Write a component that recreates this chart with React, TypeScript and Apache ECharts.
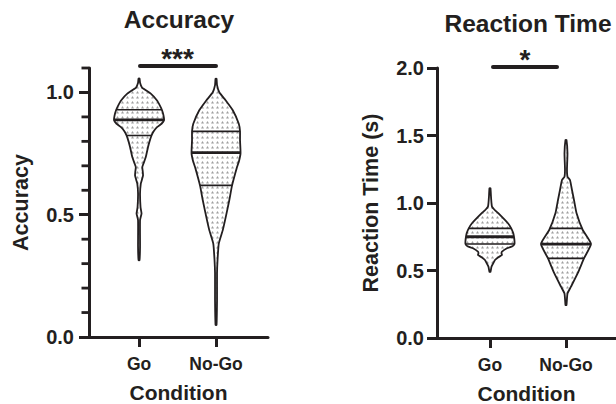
import React, { useEffect, useRef } from 'react';
import * as echarts from 'echarts';

const categories = ['Go', 'No-Go'];
const categoryPositions = [1, 2];

// Violin outlines: [value, relative half-width (1 = widest)]
const accGoProfile = [
  [1.057, 0], [1.04, 0.04], [1.02, 0.12], [0.995, 0.47], [0.967, 0.72], [0.945, 0.84],
  [0.927, 0.92], [0.905, 0.98], [0.886, 1.0], [0.872, 0.9], [0.858, 0.72], [0.84, 0.58],
  [0.824, 0.5], [0.8, 0.42], [0.777, 0.36], [0.736, 0.27], [0.71, 0.18], [0.695, 0.13],
  [0.675, 0.15], [0.661, 0.16], [0.645, 0.12], [0.627, 0.07], [0.587, 0.04], [0.53, 0.06],
  [0.505, 0.1], [0.478, 0.04], [0.369, 0.04], [0.314, 0],
];
const accNoGoProfile = [
  [1.056, 0], [1.03, 0.04], [1.001, 0.13], [0.967, 0.39], [0.927, 0.67], [0.872, 0.91],
  [0.841, 0.96], [0.804, 0.96], [0.752, 0.98], [0.72, 0.92], [0.695, 0.84], [0.619, 0.64],
  [0.559, 0.53], [0.491, 0.39], [0.437, 0.27], [0.382, 0.11], [0.314, 0.06], [0.261, 0.04],
  [0.15, 0.04], [0.049, 0],
];
const rtGoProfile = [
  [1.109, 0], [1.05, 0.04], [1.0, 0.06], [0.973, 0.08], [0.95, 0.18], [0.925, 0.33],
  [0.85, 0.72], [0.812, 0.85], [0.777, 0.93], [0.75, 0.96], [0.72, 0.98], [0.696, 0.98],
  [0.68, 0.9], [0.665, 0.68], [0.64, 0.48], [0.628, 0.46], [0.615, 0.48], [0.6, 0.35],
  [0.578, 0.2], [0.55, 0.12], [0.528, 0.06], [0.49, 0],
];
const rtNoGoProfile = [
  [1.467, 0], [1.368, 0.06], [1.25, 0.04], [1.195, 0.06], [1.17, 0.16], [1.096, 0.24],
  [1.022, 0.32], [0.926, 0.42], [0.8, 0.67], [0.696, 1.0], [0.59, 0.72], [0.48, 0.47],
  [0.38, 0.2], [0.33, 0.06], [0.244, 0],
];

// Quartiles [Q1, median, Q3]
const accGoQuartiles = [0.824, 0.888, 0.929];
const accNoGoQuartiles = [0.62, 0.754, 0.841];
const rtGoQuartiles = [0.696, 0.75, 0.812];
const rtNoGoQuartiles = [0.59, 0.696, 0.812];

const accMajorTicks = [0, 0.5, 1.0];
const accMinorTicks = [0.1, 0.2, 0.3, 0.4, 0.6, 0.7, 0.8, 0.9, 1.1];
const rtTicks = [0, 0.5, 1.0, 1.5, 2.0];

const INK = '#231f20';
const FONT = 'Liberation Sans';
const ACC_X_MIN = 0.35;

function interpWidth(profile: number[][], v: number) {
  for (let i = 0; i < profile.length - 1; i++) {
    const [v0, w0] = profile[i];
    const [v1, w1] = profile[i + 1];
    if (v <= v0 && v >= v1) {
      const t = (v0 - v) / (v0 - v1 || 1);
      return w0 + (w1 - w0) * t;
    }
  }
  return 0;
}

function makePattern() {
  const c = document.createElement('canvas');
  c.width = 5;
  c.height = 5;
  const ctx = c.getContext('2d')!;
  ctx.fillStyle = '#ffffff';
  ctx.fillRect(0, 0, 5, 5);
  ctx.fillStyle = '#a0a0a0';
  ctx.beginPath();
  ctx.moveTo(2.5, 1);
  ctx.lineTo(4, 3.6);
  ctx.lineTo(1, 3.6);
  ctx.closePath();
  ctx.fill();
  return { image: c, repeat: 'repeat', imageWidth: 5, imageHeight: 5 };
}

function makeRenderItem(
  profiles: number[][][],
  quartiles: number[][],
  pattern: any,
  minorTicks: number[] = [],
  axisXMin = 0,
) {
  const maxHalf = 25;
  return (params: any, api: any) => {
    const i = params.dataIndex;
    const xv = api.value(0);
    const prof = profiles[i];
    const q = quartiles[i];
    const cx = api.coord([xv, 0])[0];
    const left: number[][] = [];
    const right: number[][] = [];
    for (const [v, w] of prof) {
      const y = api.coord([xv, v])[1];
      const hw = Math.max(w * maxHalf, 0.5);
      left.push([cx - hw, y]);
      right.push([cx + hw, y]);
    }
    const points = left.concat(right.reverse());
    const children: any[] = [
      {
        type: 'polygon',
        shape: { points, smooth: 0.15 },
        style: { fill: pattern, stroke: INK, lineWidth: 1.8 },
      },
    ];
    q.forEach((qv, k) => {
      const hw = interpWidth(prof, qv) * maxHalf;
      const y = api.coord([xv, qv])[1];
      children.push({
        type: 'line',
        shape: { x1: cx - hw, y1: y, x2: cx + hw, y2: y },
        style: { stroke: INK, lineWidth: k === 1 ? 2.8 : 1.6 },
      });
    });
    if (i === 0) {
      // minor ticks of the value axis, placed through the axis scale
      minorTicks.forEach((v) => {
        const p = api.coord([axisXMin, v]);
        children.push({
          type: 'rect',
          shape: { x: p[0] - 7.5, y: p[1] - 1.4, width: 7.5, height: 2.8 },
          style: { fill: INK },
        });
      });
    }
    return { type: 'group', children };
  };
}

function xAxisFor(gridIndex: number, min: number, max: number) {
  return {
    type: 'value',
    gridIndex,
    min,
    max,
    name: 'Condition',
    nameLocation: 'middle',
    nameGap: 45,
    nameTextStyle: { fontSize: 21, fontWeight: 'bold', color: INK, fontFamily: FONT },
    axisLine: { show: true, onZero: false, lineStyle: { color: INK, width: 3 } },
    axisTick: { show: true, customValues: categoryPositions, length: 10, lineStyle: { color: INK, width: 3 } },
    axisLabel: {
      customValues: categoryPositions,
      formatter: (v: number) => categories[Math.round(v) - 1] ?? '',
      fontSize: 17.5,
      fontWeight: 'bold',
      color: INK,
      fontFamily: FONT,
      margin: 18,
    },
    splitLine: { show: false },
  };
}

export default function App() {
  const ref = useRef<HTMLDivElement>(null);
  useEffect(() => {
    if (!ref.current) return;
    const chart = echarts.init(ref.current, null, { renderer: 'svg' });
    const pattern = makePattern();
    const labelStyle = { fontSize: 20, fontWeight: 'bold', color: INK, fontFamily: FONT };
    chart.setOption({
      animation: false,
      backgroundColor: '#ffffff',
      title: [
        {
          text: 'Accuracy', left: 179, top: 7, textAlign: 'center', padding: 0,
          textStyle: { fontSize: 24.5, fontWeight: 'bold', color: INK, fontFamily: FONT },
        },
        {
          text: 'Reaction Time', left: 528, top: 11, textAlign: 'center', padding: 0,
          textStyle: { fontSize: 24.5, fontWeight: 'bold', color: INK, fontFamily: FONT },
        },
      ],
      grid: [
        { left: 89, top: 68, width: 179, height: 269, outerBoundsMode: 'none', containLabel: false },
        { left: 437, top: 68, width: 179, height: 270, outerBoundsMode: 'none', containLabel: false },
      ],
      xAxis: [xAxisFor(0, ACC_X_MIN, 2.675), xAxisFor(1, 0.303, 2.658)],
      yAxis: [
        {
          type: 'value', gridIndex: 0, position: 'left', min: 0, max: 1.1, interval: 0.5,
          name: 'Accuracy', nameLocation: 'middle', nameGap: 57,
          nameTextStyle: { fontSize: 21.5, fontWeight: 'bold', color: INK, fontFamily: FONT },
          axisLine: { show: true, onZero: false, lineStyle: { color: INK, width: 3 } },
          axisTick: { show: true, customValues: accMajorTicks, length: 10, lineStyle: { color: INK, width: 3 } },
          axisLabel: {
            ...labelStyle, customValues: accMajorTicks, margin: 15,
            formatter: (v: number) => (accMajorTicks.some((t) => Math.abs(t - v) < 1e-6) ? v.toFixed(1) : ''),
          },
          splitLine: { show: false },
        },
        {
          type: 'value', gridIndex: 1, position: 'left', min: 0, max: 2, interval: 0.5,
          name: 'Reaction Time (s)', nameLocation: 'middle', nameGap: 55,
          nameTextStyle: { fontSize: 21.5, fontWeight: 'bold', color: INK, fontFamily: FONT },
          axisLine: { show: true, onZero: false, lineStyle: { color: INK, width: 3 } },
          axisTick: { show: true, customValues: rtTicks, length: 10, lineStyle: { color: INK, width: 3 } },
          axisLabel: { ...labelStyle, customValues: rtTicks, margin: 13, formatter: (v: number) => v.toFixed(1) },
          splitLine: { show: false },
        },
      ],
      graphic: [
        { type: 'line', shape: { x1: 140, y1: 66, x2: 216, y2: 66 }, style: { stroke: INK, lineWidth: 4, lineCap: 'round' } },
        { type: 'text', x: 177.5, y: 58, style: { text: '***', fontSize: 28, fontWeight: 'bold', fill: INK, fontFamily: FONT, align: 'center', verticalAlign: 'middle' } },
        { type: 'line', shape: { x1: 493, y1: 67, x2: 557, y2: 67 }, style: { stroke: INK, lineWidth: 4, lineCap: 'round' } },
        { type: 'text', x: 525, y: 59, style: { text: '*', fontSize: 28, fontWeight: 'bold', fill: INK, fontFamily: FONT, align: 'center', verticalAlign: 'middle' } },
      ],
      series: [
        {
          type: 'custom',
          xAxisIndex: 0,
          yAxisIndex: 0,
          clip: false,
          data: categoryPositions.map((p) => [p, 0]),
          renderItem: makeRenderItem(
            [accGoProfile, accNoGoProfile],
            [accGoQuartiles, accNoGoQuartiles],
            pattern,
            accMinorTicks,
            ACC_X_MIN,
          ),
        },
        {
          type: 'custom',
          xAxisIndex: 1,
          yAxisIndex: 1,
          clip: false,
          data: categoryPositions.map((p) => [p, 0]),
          renderItem: makeRenderItem([rtGoProfile, rtNoGoProfile], [rtGoQuartiles, rtNoGoQuartiles], pattern),
        },
      ],
    });
    return () => chart.dispose();
  }, []);
  return <div ref={ref} style={{ position: 'absolute', left: 0, top: 0, width: 616, height: 404 }} />;
}
